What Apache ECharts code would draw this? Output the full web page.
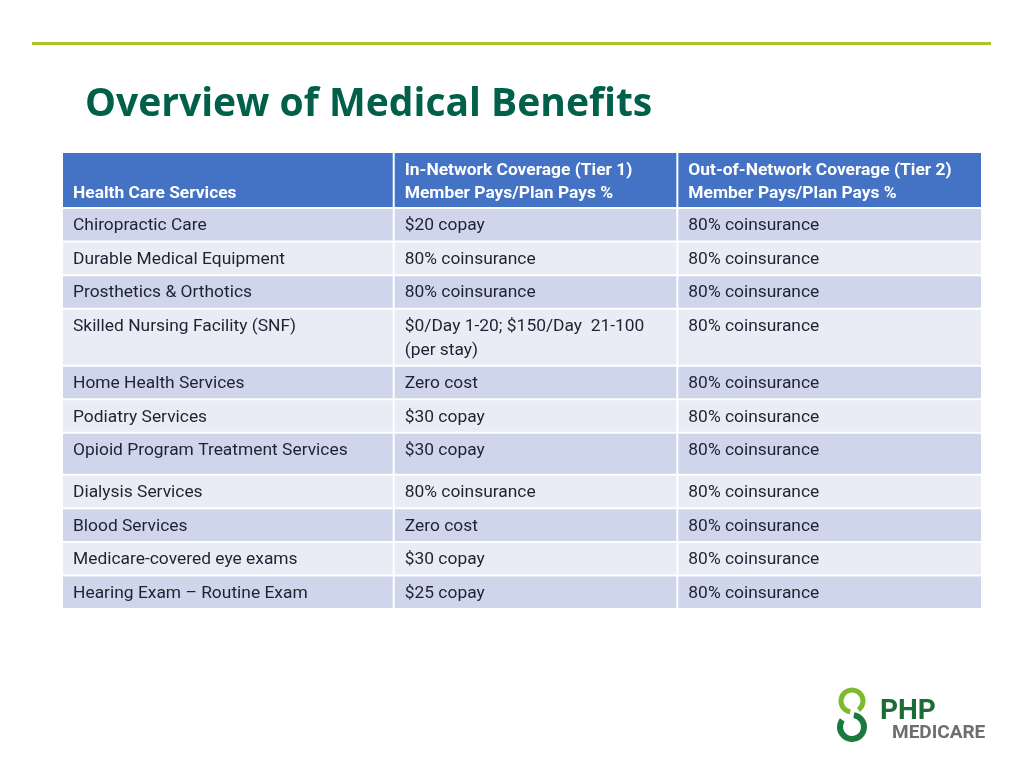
<!DOCTYPE html>
<html>
<head>
<meta charset="utf-8">
<script src="https://cdn.jsdelivr.net/npm/echarts@6/dist/echarts.min.js"></script>
<style>
  html, body { margin: 0; padding: 0; background: #fff; }
  #chart { width: 1024px; height: 768px; }
</style>
</head>
<body>
<div id="chart"></div>
<script>
// table content
const headers = [
  'Health Care Services',
  'In-Network Coverage (Tier 1)\nMember Pays/Plan Pays %',
  'Out-of-Network Coverage (Tier 2)\nMember Pays/Plan Pays %'
];
const services = [
  'Chiropractic Care',
  'Durable Medical Equipment',
  'Prosthetics & Orthotics',
  'Skilled Nursing Facility (SNF)',
  'Home Health Services',
  'Podiatry Services',
  'Opioid Program Treatment Services',
  'Dialysis Services',
  'Blood Services',
  'Medicare-covered eye exams',
  'Hearing Exam \u2013 Routine Exam'
];
const inNetwork = [
  '$20 copay',
  '80% coinsurance',
  '80% coinsurance',
  '$0/Day 1-20; $150/Day  21-100\n(per stay)',
  'Zero cost',
  '$30 copay',
  '$30 copay',
  '80% coinsurance',
  'Zero cost',
  '$30 copay',
  '$25 copay'
];
const outNetwork = [
  '80% coinsurance',
  '80% coinsurance',
  '80% coinsurance',
  '80% coinsurance',
  '80% coinsurance',
  '80% coinsurance',
  '80% coinsurance',
  '80% coinsurance',
  '80% coinsurance',
  '80% coinsurance',
  '80% coinsurance'
];

// layout (row heights in units, column widths)
const headUnits = 1.67;
const rowUnits = [1, 1, 1, 1.7, 1, 1, 1.25, 1, 1, 1, 1];
const colWidths = [331, 283, 304];

const rowStart = [0];
let acc = headUnits;
rowUnits.forEach(u => { rowStart.push(acc); acc += u; });
const totalUnits = acc;
const colStart = [0];
colWidths.forEach((w, i) => colStart.push(colStart[i] + w));

const columns = [services, inNetwork, outNetwork];
const cells = [];
headers.forEach((h, c) => cells.push([c, 0, h]));
services.forEach((s, r) => {
  columns.forEach((col, c) => cells.push([c, r + 1, col[r]]));
});

const FONT = 'Roboto, "Noto Sans", sans-serif';

function renderCell(params, api) {
  const c = api.value(0);
  const r = api.value(1);
  const text = cells[params.dataIndex][2];
  const y0 = rowStart[r];
  const y1 = r === 0 ? headUnits : y0 + rowUnits[r - 1];
  const p0 = api.coord([colStart[c], y0]);
  const p1 = api.coord([colStart[c + 1], y1]);
  const x = p0[0], y = p0[1];
  const w = p1[0] - p0[0] - 2, h = p1[1] - p0[1] - 2;
  let fill;
  if (r === 0) fill = '#4472c4';
  else fill = (r % 2 === 1) ? '#cfd5ea' : '#e9ebf5';
  const textEl = r === 0 ? {
    type: 'text',
    style: {
      text: text, x: x + 10, y: y + h - 1.5,
      fill: '#ffffff', fontSize: 17.4, fontWeight: 'bold', fontFamily: FONT,
      verticalAlign: 'bottom', lineHeight: 23
    }
  } : {
    type: 'text',
    style: {
      text: text, x: x + 10, y: y + 5,
      fill: '#1f2233', fontSize: 17.4, fontFamily: FONT,
      verticalAlign: 'top', lineHeight: 24
    }
  };
  return {
    type: 'group',
    children: [
      { type: 'rect', shape: { x: x, y: y, width: w, height: h }, style: { fill: fill } },
      textEl
    ]
  };
}

const chart = echarts.init(document.getElementById('chart'));
chart.setOption({
  animation: false,
  title: {
    text: 'Overview of Medical Benefits',
    left: 80, top: 80,
    textStyle: { color: '#00604a', fontSize: 39, fontWeight: 'bold', fontFamily: '"Open Sans", sans-serif' }
  },
  grid: { left: 63, top: 153, width: 920, height: 457 },
  xAxis: { type: 'value', min: 0, max: colStart[3], show: false },
  yAxis: { type: 'value', min: 0, max: totalUnits, inverse: true, show: false },
  series: [{
    type: 'custom',
    renderItem: renderCell,
    data: cells.map(d => [d[0], d[1]]),
    silent: true
  }],
  graphic: [
    { type: 'rect', shape: { x: 32, y: 42, width: 959, height: 3 }, style: { fill: '#a8c62a' } },
    // logo
    { type: 'arc', shape: { cx: 852, cy: 701, r: 11, startAngle: Math.PI * 0.55, endAngle: Math.PI * 2.3 },
      style: { stroke: '#7cbc2c', lineWidth: 5, fill: 'none' } },
    { type: 'arc', shape: { cx: 852, cy: 727, r: 12, startAngle: Math.PI * 1.55, endAngle: Math.PI * 3.2 },
      style: { stroke: '#1a7a3e', lineWidth: 6, fill: 'none' } },
    { type: 'text', left: 880, top: 698,
      style: { text: 'PHP', fill: '#1d6b37', fontSize: 28, fontWeight: 'bold', fontFamily: FONT } },
    { type: 'text', left: 892, top: 724,
      style: { text: 'MEDICARE', fill: '#6d6e71', fontSize: 19, fontWeight: 'bold', fontFamily: FONT } }
  ]
});
</script>
</body>
</html>
